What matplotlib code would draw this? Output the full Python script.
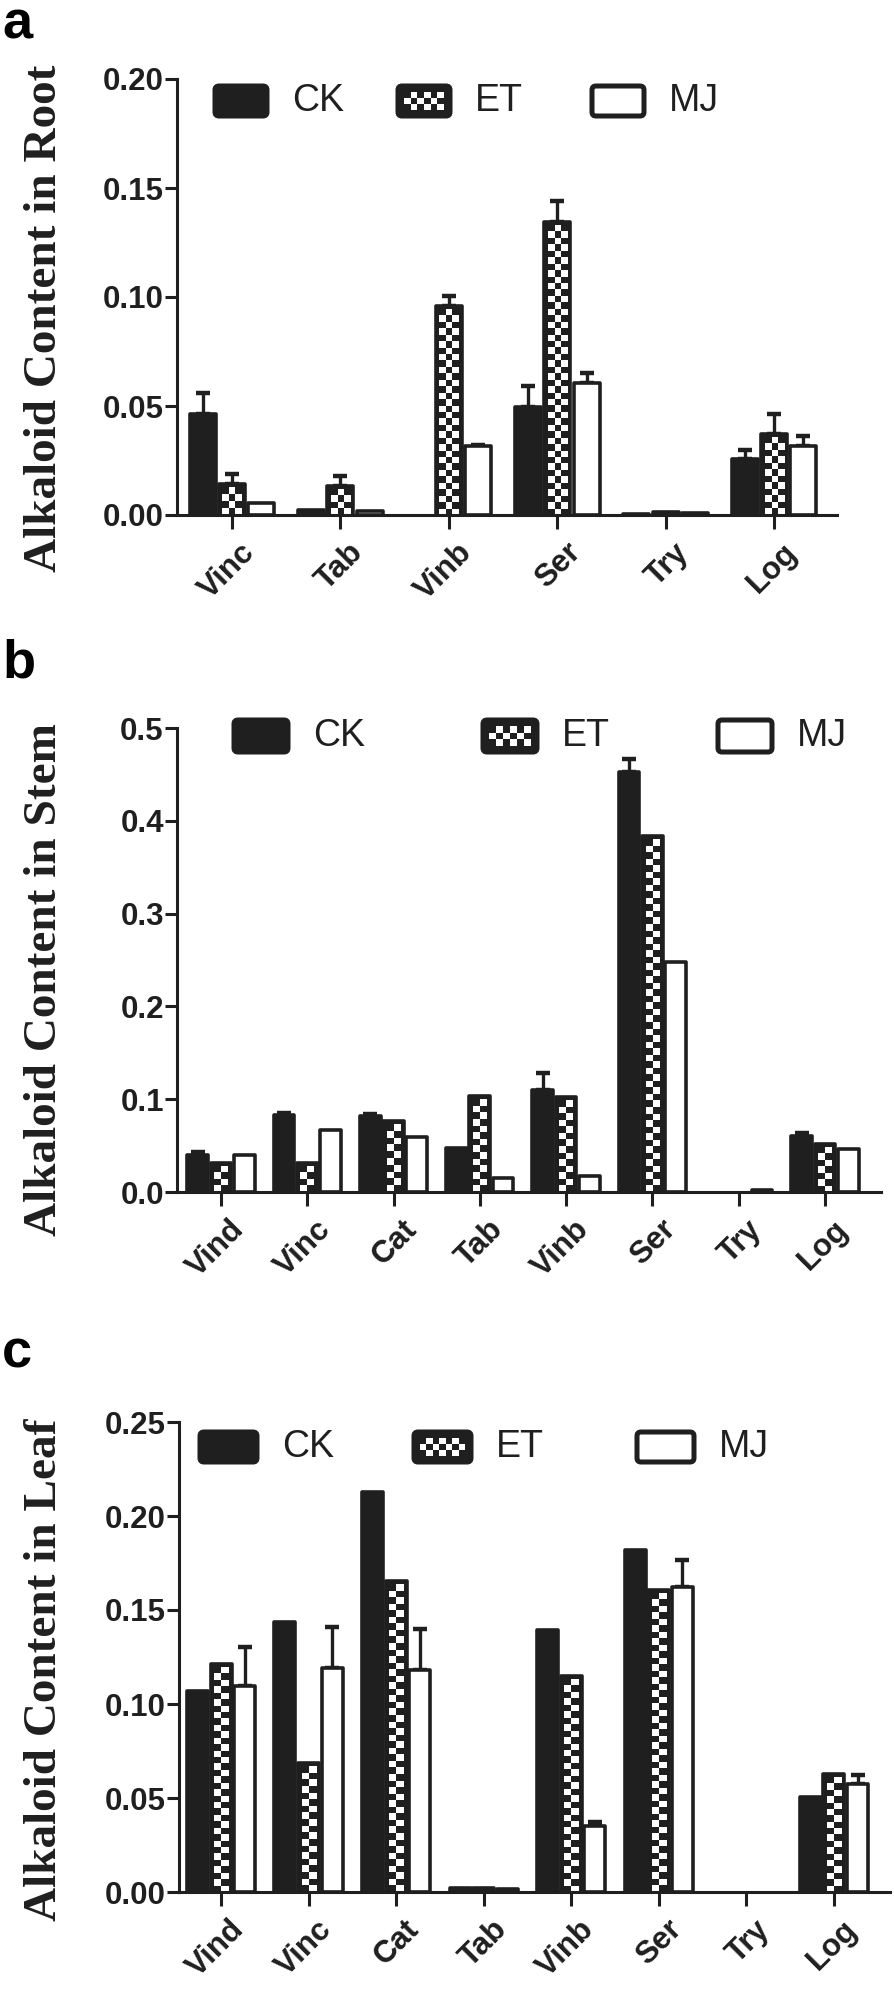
import numpy as np
import matplotlib
matplotlib.use('Agg')
import matplotlib.pyplot as plt
from matplotlib.colors import ListedColormap
from matplotlib.patches import FancyBboxPatch
from matplotlib.transforms import ScaledTranslation

plt.rcParams['font.family'] = ['Liberation Sans', 'DejaVu Sans']

W, H, DPI = 894, 1996, 100
K = '#1f1f1f'
CHECK = ListedColormap([K, 'white'])

treatments = ['CK', 'ET', 'MJ']

# --- a: root
root_cats = ['Vinc', 'Tab', 'Vinb', 'Ser', 'Try', 'Log']
root_ck = [0.0465, 0.0023, 0.0, 0.0495, 0.0006, 0.0255]
root_et = [0.0140, 0.0133, 0.0958, 0.1345, 0.0014, 0.0370]
root_mj = [0.0055, 0.0020, 0.0316, 0.0607, 0.0008, 0.0318]
root_ck_err = [0.0095, 0.0, 0.0, 0.0095, 0.0, 0.0045]
root_et_err = [0.0046, 0.0045, 0.0047, 0.0095, 0.0, 0.0095]
root_mj_err = [0.0, 0.0, 0.0006, 0.0045, 0.0, 0.0044]

# --- b: stem
stem_cats = ['Vind', 'Vinc', 'Cat', 'Tab', 'Vinb', 'Ser', 'Try', 'Log']
stem_ck = [0.040, 0.083, 0.082, 0.047, 0.110, 0.453, 0.0, 0.060]
stem_et = [0.031, 0.031, 0.077, 0.103, 0.102, 0.384, 0.0, 0.052]
stem_mj = [0.040, 0.067, 0.059, 0.015, 0.017, 0.248, 0.002, 0.046]
stem_ck_err = [0.003, 0.002, 0.002, 0.0, 0.018, 0.014, 0.0, 0.004]
stem_et_err = [0.0, 0.0, 0.0, 0.0, 0.0, 0.0, 0.0, 0.0]
stem_mj_err = [0.0, 0.0, 0.0, 0.0, 0.0, 0.0, 0.0, 0.0]

# --- c: leaf
leaf_cats = ['Vind', 'Vinc', 'Cat', 'Tab', 'Vinb', 'Ser', 'Try', 'Log']
leaf_ck = [0.1067, 0.1437, 0.2127, 0.0020, 0.1393, 0.1817, 0.0, 0.0506]
leaf_et = [0.1212, 0.0684, 0.1654, 0.0020, 0.1150, 0.1605, 0.0, 0.0626]
leaf_mj = [0.1094, 0.1190, 0.1183, 0.0015, 0.0353, 0.1622, 0.0, 0.0577]
leaf_ck_err = [0.0, 0.0, 0.0, 0.0, 0.0, 0.0, 0.0, 0.0]
leaf_et_err = [0.0, 0.0, 0.0, 0.0, 0.0, 0.0, 0.0, 0.0]
leaf_mj_err = [0.0211, 0.0220, 0.0217, 0.0, 0.0017, 0.0146, 0.0, 0.0046]

panels = [
    dict(letter='a', cats=root_cats, vals=[root_ck, root_et, root_mj],
         errs=[root_ck_err, root_et_err, root_mj_err],
         yticks=np.arange(0, 0.201, 0.05), fmt='%.2f', ylabel='Alkaloid Content in Root',
         box=(177, 837, 79, 515), xlim=(-0.507, 5.58),
         leg_x=[215, 398, 592], leg_y=86, leg_w=52, leg_h=30,
         letter_y=38, ylabel_y=318),
    dict(letter='b', cats=stem_cats, vals=[stem_ck, stem_et, stem_mj],
         errs=[stem_ck_err, stem_et_err, stem_mj_err],
         yticks=np.arange(0, 0.51, 0.1), fmt='%.1f', ylabel='Alkaloid Content in Stem',
         box=(177, 881, 728, 1192), xlim=(-0.51, 7.65),
         leg_x=[234, 483, 718], leg_y=720, leg_w=54, leg_h=32,
         letter_y=677, ylabel_y=980),
    dict(letter='c', cats=leaf_cats, vals=[leaf_ck, leaf_et, leaf_mj],
         errs=[leaf_ck_err, leaf_et_err, leaf_mj_err],
         yticks=np.arange(0, 0.251, 0.05), fmt='%.2f', ylabel='Alkaloid Content in Leaf',
         box=(179, 890, 1422, 1892), xlim=(-0.48, 7.64),
         leg_x=[200, 414, 637], leg_y=1432, leg_w=57, leg_h=30,
         letter_y=1367, ylabel_y=1670),
]

BAR_W = 0.24
OFFS = [-0.27, 0.0, 0.27]
CELL = 6.5  # checker cell size in pixels


def checker(ax, x0, x1, y0, y1, nx, ny, z):
    arr = np.indices((ny, nx)).sum(axis=0) % 2
    ax.imshow(arr, extent=(x0, x1, y0, y1), cmap=CHECK, vmin=0, vmax=1,
              interpolation='nearest', aspect='auto', zorder=z)


fig = plt.figure(figsize=(W / DPI, H / DPI), dpi=DPI)

for p in panels:
    left, right, top, bottom = p['box']
    ax = fig.add_axes([left / W, 1 - bottom / H, (right - left) / W, (bottom - top) / H])
    ymax = p['yticks'][-1]
    ax.set_xlim(*p['xlim'])
    ax.set_ylim(0, ymax)
    x = np.arange(len(p['cats']))

    for i, (vals, errs) in enumerate(zip(p['vals'], p['errs'])):
        vals = np.array(vals)
        errs = np.array(errs)
        face = 'white' if i == 2 else K
        bars = ax.bar(x + OFFS[i], vals, BAR_W, facecolor=face, edgecolor=K,
                      linewidth=2.6, zorder=2)
        for b in bars:
            b.set_joinstyle('round')
            if b.get_height() <= 0:
                b.set_visible(False)
        m = errs > 0
        if m.any():
            ax.errorbar(x[m] + OFFS[i], vals[m], yerr=[np.zeros(m.sum()), errs[m]],
                        fmt='none', ecolor=K, elinewidth=2.4, capsize=5, capthick=3.2,
                        zorder=1.9)
        if i == 1:
            # checker fill inside the ET bars
            inv = ax.transData.inverted()
            for b in bars:
                bx, bw, bh = b.get_x(), b.get_width(), b.get_height()
                (px0, py0) = ax.transData.transform((bx, 0))
                (px1, py1) = ax.transData.transform((bx + bw, bh))
                ix0, ix1, iy1 = px0 + 3.5, px1 - 3.5, py1 - 3.5
                if iy1 - py0 < CELL:
                    continue
                nx = max(1, int(round((ix1 - ix0) / CELL)))
                ny = max(1, int(round((iy1 - py0) / CELL)))
                dx0, _ = inv.transform((ix0, py0))
                dx1, dy1 = inv.transform((ix1, iy1))
                checker(ax, dx0, dx1, 0, dy1, nx, ny, 2.5)

    ax.set_xlim(*p['xlim'])
    ax.set_ylim(0, ymax)
    for s in ['top', 'right']:
        ax.spines[s].set_visible(False)
    for s in ['left', 'bottom']:
        ax.spines[s].set_linewidth(2.2)
        ax.spines[s].set_color(K)
        ax.spines[s].set_zorder(3)
    ax.patch.set_alpha(0)

    ax.set_yticks(p['yticks'])
    ax.set_yticklabels([p['fmt'] % v for v in p['yticks']])
    ax.set_xticks(x)
    ax.set_xticklabels(p['cats'])
    ax.tick_params(axis='y', length=8.5, width=2.2, color=K, pad=1,
                   labelsize=22.5, labelcolor=K)
    ax.tick_params(axis='x', length=10, width=2.2, color=K, pad=6,
                   labelsize=22.5, labelcolor=K)
    for lab in ax.get_yticklabels():
        lab.set_fontweight('bold')
    shift = ScaledTranslation(8 / DPI, 0, fig.dpi_scale_trans)
    for lab in ax.get_xticklabels():
        lab.set_fontweight('bold')
        lab.set_rotation(45)
        lab.set_ha('right')
        lab.set_va('top')
        lab.set_rotation_mode('anchor')
        lab.set_transform(lab.get_transform() + shift)

# overlay in pixel coordinates for legends, panel letters and y labels
ov = fig.add_axes([0, 0, 1, 1])
ov.set_xlim(0, W)
ov.set_ylim(H, 0)
ov.axis('off')

for p in panels:
    w, h, y0 = p['leg_w'], p['leg_h'], p['leg_y']
    for i, (lx, name) in enumerate(zip(p['leg_x'], treatments)):
        face = 'white' if i == 2 else K
        ov.add_patch(FancyBboxPatch((lx, y0), w, h, boxstyle='round,pad=0,rounding_size=4',
                                    facecolor=face, edgecolor=K, linewidth=3.6, zorder=2))
        if i == 1:
            nx = int(round((w - 12) / CELL))
            checker(ov, lx + 6, lx + w - 6, y0 + h - 6, y0 + 6, nx, 3, 3)
        ov.text(lx + w + 25, y0 + h / 2, name, fontsize=27, color=K,
                ha='left', va='center')
    ov.text(2, p['letter_y'], p['letter'], fontsize=39, fontweight='bold', color='black',
            ha='left', va='baseline')
    ov.text(45, p['ylabel_y'], p['ylabel'], fontsize=34, fontweight='bold', color=K,
            family=['Liberation Serif', 'DejaVu Serif'], rotation=90,
            ha='center', va='center')

ov.set_xlim(0, W)
ov.set_ylim(H, 0)

fig.savefig('out.png', dpi=DPI)
